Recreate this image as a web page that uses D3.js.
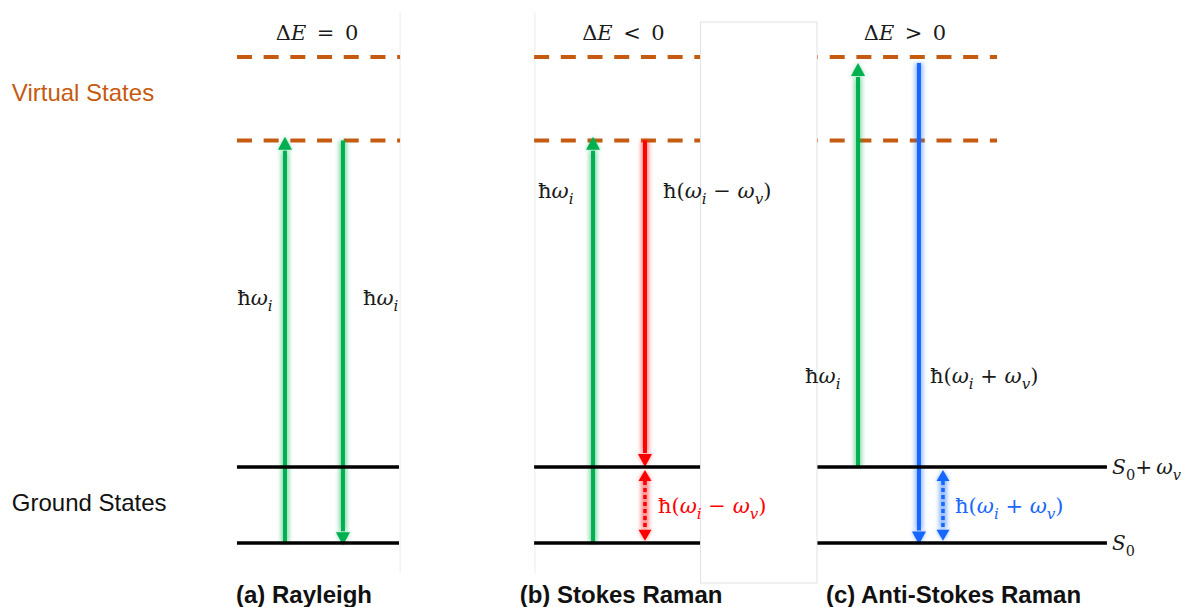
<!DOCTYPE html>
<html>
<head>
<meta charset="utf-8">
<script src="https://cdn.jsdelivr.net/npm/d3@7"></script>
<style>
  html, body { margin: 0; padding: 0; background: #fff; }
  svg { display: block; }
</style>
</head>
<body>
<div id="chart"></div>
<script>
// Energy levels in units of the vibrational quantum (S0 = 0)
const groundLevels = [0, 1];
const groundNames = ["S_0", "S_0+ ω_v"];
const virtualLevels = [5.3, 6.4];

const panelTitles = ["(a) Rayleigh", "(b) Stokes Raman", "(c) Anti-Stokes Raman"];
const deltaE = ["ΔE = 0", "ΔE < 0", "ΔE > 0"];
const sideLabels = ["Virtual States", "Ground States"];

// Transitions: panel, start and tip energy, label, type
const transitions = [
  {panel: 0, from: 0, to: 5.35, label: "ħω_i", type: "incident"},
  {panel: 0, from: 5.3, to: -0.03, label: "ħω_i", type: "incident"},
  {panel: 1, from: 0, to: 5.35, label: "ħω_i", type: "incident"},
  {panel: 1, from: 5.3, to: 1, label: "ħ(ω_i − ω_v)", type: "stokes"},
  {panel: 1, from: 0.96, to: 0.03, label: "ħ(ω_i − ω_v)", type: "stokes", both: true},
  {panel: 2, from: 1, to: 6.32, label: "ħω_i", type: "incident"},
  {panel: 2, from: 6.32, to: -0.02, label: "ħ(ω_i + ω_v)", type: "antiStokes"},
  {panel: 2, from: 0.96, to: 0.03, label: "ħ(ω_i + ω_v)", type: "antiStokes", both: true}
];

const width = 1183;
const height = 607;

const colors = {incident: "#00b050", stokes: "#ff0000", antiStokes: "#1767ff"};
const virtualColor = "#c55a11";

// x in percent of the page width, y in energy units
const x = d3.scaleLinear().domain([0, 100]).range([0, width]);
const y = d3.scaleLinear().domain([0, 6.4]).range([543, 57]);

// layout of each panel (percent units)
const panelLayout = [
  {lo: 20.03, dashHi: 33.82, groundHi: 33.73, dashOffset: 0, titleX: 26.8, captionX: 25.7},
  {lo: 45.15, dashHi: 59.26, groundHi: 59.26, dashOffset: 0, titleX: 52.7, captionX: 52.5},
  {lo: 69.06, dashHi: 84.28, groundHi: 93.57, dashOffset: 14, titleX: 76.5, captionX: 80.6}
];
// arrow x and label position (x percent, baseline energy), same order as transitions
const arrowLayout = [
  {x: 24.09, lx: 20.05, ly: 3.13},
  {x: 28.99, lx: 30.68, ly: 3.13},
  {x: 50.13, lx: 45.48, ly: 4.54},
  {x: 54.52, lx: 56.04, ly: 4.54},
  {x: 54.52, lx: 55.62, ly: 0.395},
  {x: 72.53, lx: 68.05, ly: 2.11},
  {x: 77.68, lx: 78.61, ly: 2.11},
  {x: 79.71, lx: 80.73, ly: 0.395}
];

const mathFont = "'DejaVu Serif', 'Liberation Serif', serif";
const sansFont = "'Liberation Sans', Arial, sans-serif";
const mathSize = 21;

const svg = d3.select("#chart").append("svg")
  .attr("width", width)
  .attr("height", height)
  .style("background-color", "white");

svg.append("defs").append("filter")
  .attr("id", "glow")
  .attr("x", "-100%").attr("y", "-10%")
  .attr("width", "300%").attr("height", "120%")
  .append("feGaussianBlur").attr("stdDeviation", 2);

// faint frames of the pasted panels
const frames = svg.append("g").attr("stroke", "#ececec").attr("stroke-width", 1);
frames.append("line")
  .attr("x1", x(33.82)).attr("x2", x(33.82)).attr("y1", 12).attr("y2", 573);
frames.append("line")
  .attr("x1", x(45.22)).attr("x2", x(45.22)).attr("y1", 12).attr("y2", 573);

// virtual states (dashed)
panelLayout.forEach(p => {
  svg.append("g").selectAll("line")
    .data(virtualLevels)
    .join("line")
    .attr("x1", x(p.lo)).attr("x2", x(p.dashHi))
    .attr("y1", d => y(d)).attr("y2", d => y(d))
    .attr("stroke", virtualColor)
    .attr("stroke-width", 4)
    .attr("stroke-dasharray", "15 11.7")
    .attr("stroke-dashoffset", p.dashOffset);
});

// arrows
const headLen = 13, headHalf = 7;
function head(g, xp, yTip, dir, color, small) {
  const len = small ? 11 : headLen, half = small ? 6.5 : headHalf;
  const yb = yTip + dir * len;
  g.append("path")
    .attr("d", `M${xp},${yTip}L${xp - half},${yb}L${xp + half},${yb}Z`)
    .attr("fill", color);
}

transitions.forEach((t, i) => {
  const L = arrowLayout[i];
  const color = colors[t.type];
  const xp = x(L.x);
  const y0 = y(t.from), y1 = y(t.to);
  const dir = y1 < y0 ? 1 : -1;     // +1: pointing up
  const len = t.both ? 11 : headLen;
  const sEnd = y1 + dir * len;
  const sStart = t.both ? y0 - dir * len : y0;

  const g = svg.append("g");
  // soft halo
  const halo = g.append("g").attr("filter", "url(#glow)").attr("opacity", 0.45);
  halo.append("line")
    .attr("x1", xp).attr("x2", xp).attr("y1", sStart).attr("y2", sEnd + dir * 2)
    .attr("stroke", color).attr("stroke-width", 8);
  head(halo, xp, y1, dir, color, t.both);
  if (t.both) head(halo, xp, y0, -dir, color, true);

  g.append("line")
    .attr("x1", xp).attr("x2", xp).attr("y1", sStart).attr("y2", sEnd + dir * 1)
    .attr("stroke", color)
    .attr("stroke-width", t.both ? 3.5 : 4)
    .attr("stroke-dasharray", t.both ? "4 3" : null);
  head(g, xp, y1, dir, color, t.both);
  if (t.both) head(g, xp, y0, -dir, color, true);
});

// ground states (solid black)
panelLayout.forEach(p => {
  svg.append("g").selectAll("line")
    .data(groundLevels)
    .join("line")
    .attr("x1", x(p.lo)).attr("x2", x(p.groundHi))
    .attr("y1", d => y(d)).attr("y2", d => y(d))
    .attr("stroke", "#000")
    .attr("stroke-width", 3.5);
});

// white box of the overlapping panel
svg.append("rect")
  .attr("x", x(59.22)).attr("y", 22)
  .attr("width", x(69.06) - x(59.22)).attr("height", 561)
  .attr("fill", "#fff")
  .attr("stroke", "#e2e2e2")
  .attr("stroke-width", 1);

// math text: letters in italics, _c for a subscript
function mathText(sel, str, size) {
  const re = /_(.)|([ωES])|([^_ωES]+)/g;
  const drop = size * 0.28;
  let m, down = false;
  while ((m = re.exec(str))) {
    const t = sel.append("tspan");
    if (m[1]) {
      t.text(m[1])
        .attr("font-style", /\d/.test(m[1]) ? "normal" : "italic")
        .attr("font-size", size * 0.72)
        .attr("dy", down ? 0 : drop);
      down = true;
    } else {
      t.text(m[2] || m[3]);
      if (m[2]) t.attr("font-style", "italic");
      if (down) { t.attr("dy", -drop); down = false; }
    }
  }
}

// ΔE headers
svg.append("g").selectAll("text")
  .data(deltaE)
  .join("text")
  .attr("x", (d, i) => x(panelLayout[i].titleX))
  .attr("y", 40)
  .attr("text-anchor", "middle")
  .attr("font-family", mathFont)
  .attr("font-size", mathSize)
  .attr("fill", "#1a1a1a")
  .each(function(d) { mathText(d3.select(this), d.replace(/ /g, "\u2002"), mathSize); });

// transition labels
transitions.forEach((t, i) => {
  const L = arrowLayout[i];
  svg.append("text")
    .attr("x", x(L.lx))
    .attr("y", y(L.ly))
    .attr("font-family", mathFont)
    .attr("font-size", mathSize)
    .attr("fill", t.both ? colors[t.type] : "#1a1a1a")
    .call(s => mathText(s, t.label, mathSize));
});

// ground level names
svg.append("g").selectAll("text")
  .data(groundLevels)
  .join("text")
  .attr("x", x(94.0))
  .attr("y", d => y(d) + 7)
  .attr("font-family", mathFont)
  .attr("font-size", 20)
  .attr("fill", "#1a1a1a")
  .attr("textLength", (d, i) => i ? 69 : null)
  .attr("lengthAdjust", "spacingAndGlyphs")
  .each(function(d, i) { mathText(d3.select(this), groundNames[i].replace("+ ", "+\u2009"), 20); });

// side labels
svg.append("text")
  .attr("x", x(1.0)).attr("y", y(5.82))
  .attr("font-family", sansFont).attr("font-size", 24)
  .attr("fill", virtualColor)
  .text(sideLabels[0]);
svg.append("text")
  .attr("x", x(1.0)).attr("y", y(0.42))
  .attr("font-family", sansFont).attr("font-size", 24)
  .attr("fill", "#111")
  .text(sideLabels[1]);

// panel captions
svg.append("g").selectAll("text")
  .data(panelTitles)
  .join("text")
  .attr("x", (d, i) => x(panelLayout[i].captionX))
  .attr("y", 603)
  .attr("text-anchor", "middle")
  .attr("font-family", sansFont)
  .attr("font-size", 24)
  .attr("font-weight", "bold")
  .attr("fill", "#111")
  .text(d => d);
</script>
</body>
</html>
